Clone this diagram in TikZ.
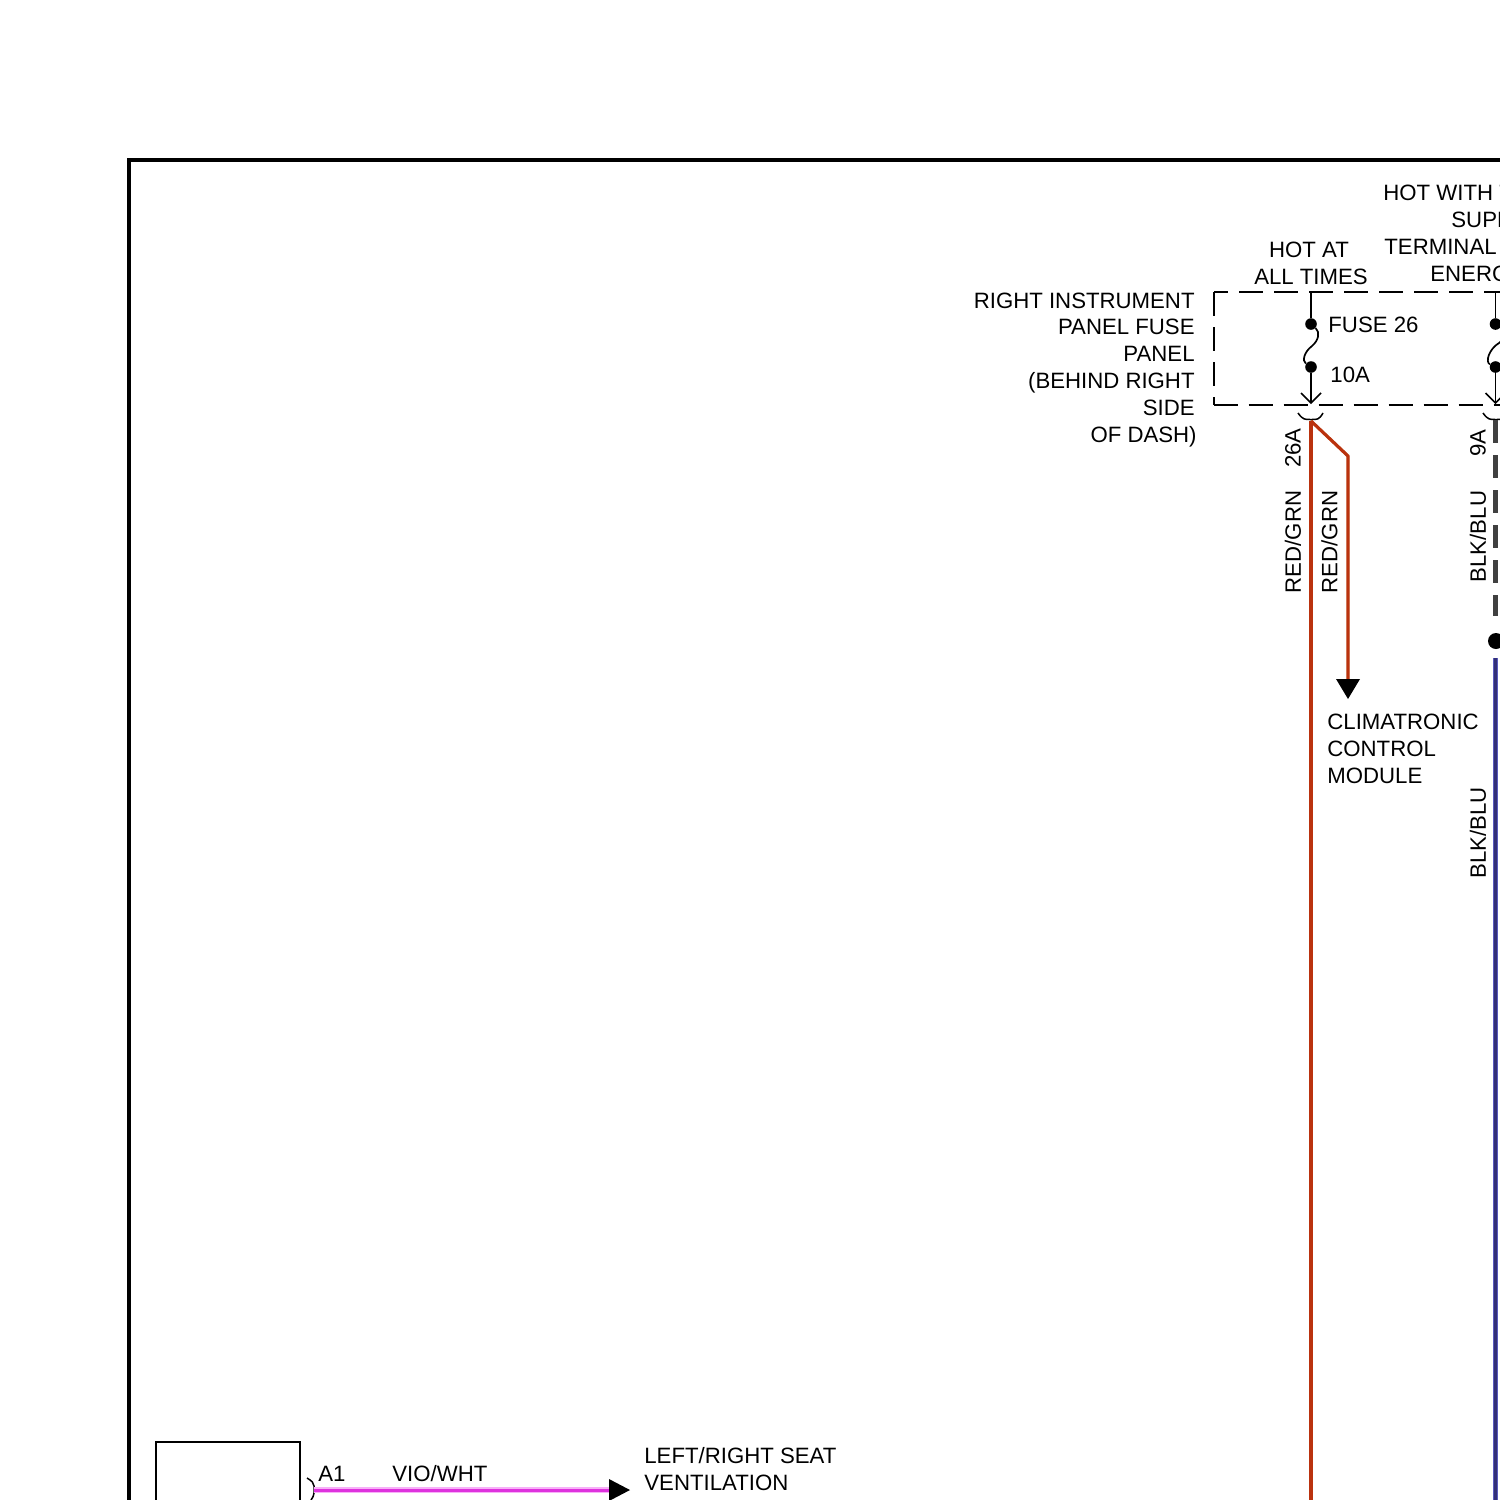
\documentclass[tikz,border=0pt]{standalone}
\usepackage{fontspec}
\setmainfont{Liberation Sans}
\definecolor{wirecore}{RGB}{186,50,14}
\definecolor{wirepink}{RGB}{250,160,150}
\definecolor{wireyel}{RGB}{225,215,90}
\definecolor{wiregrn}{RGB}{190,215,80}
\definecolor{wireblue}{RGB}{50,48,120}
\definecolor{wireblu2}{RGB}{90,90,190}
\definecolor{wiremag}{RGB}{222,50,222}
\definecolor{wiremag2}{RGB}{248,175,248}
\tikzset{
  lbl/.style={inner sep=0pt,font=\fontsize{11.1pt}{13pt}\selectfont,text=black},
  lblr/.style={lbl,anchor=east,align=right},
  lbll/.style={lbl,anchor=west,align=left},
  lblv/.style={lbl,rotate=90,anchor=east},
  dot/.style={circle,fill=black,inner sep=0pt,minimum size=5.8pt},
  fusew/.style={line width=0.85pt,black},
  box/.style={line width=0.8pt,black,dash pattern=on 12pt off 5.5pt},
  tri/.style={fill=black,draw=none},
  conn/.style={line width=0.75pt,black}
}
\begin{document}
\begin{tikzpicture}[x=0.5pt,y=-0.5pt]
\useasboundingbox (0,0) rectangle (1500,1500);
\clip (0,0) rectangle (1500,1500);
% frame
\draw[line width=2pt,black] (1504,160) -- (129,160) -- (129,1504);
% dashed fuse panel
\draw[box,dash phase=5pt] (1214,292) -- (1504,292);
\draw[box] (1214,292) -- (1214,405);
\draw[box] (1213.5,405) -- (1504,405);
% coordinates
\coordinate (t1) at (1311,292);
\node[dot] (f1a) at (1311,324) {};
\node[dot] (f1b) at (1311,367) {};
\coordinate (a1) at (1311,403);
\coordinate (t2) at (1495.5,292);
\node[dot] (f2a) at (1495.5,324) {};
\node[dot] (f2b) at (1495.5,367) {};
\coordinate (a2) at (1495.5,403);
% fuse 1
\draw[fusew] (t1) -- (f1a);
\draw[fusew] (f1a) .. controls (1320,332) and (1319,340) .. (1312,346) .. controls (1304,352) and (1302,361) .. (f1b);
\draw[fusew] (f1b) -- (a1);
\draw[fusew] (1301,393) -- (a1) -- (1321,393);
% fuse 2
\draw[fusew] (t2) -- (f2a);
\draw[fusew] (f2a) .. controls (1506,332) and (1506,338) .. (1499,343) .. controls (1489,349) and (1485,362) .. (f2b);
\draw[fusew] (f2b) -- (a2);
\draw[fusew] (1485.5,393) -- (a2) -- (1505.5,393);
% connector arcs
\draw[conn] (1298,413) .. controls (1303,420) and (1305,419.5) .. (1311,419.5) .. controls (1317,419.5) and (1319,420) .. (1323,413);
\draw[conn] (1483,413) .. controls (1488,420) and (1490,419.5) .. (1496,419.5) .. controls (1502,419.5) and (1504,420) .. (1508,413);
% red/green wires
\coordinate (w1) at (1311,421);
\coordinate (w1e) at (1311,1504);
\coordinate (k1) at (1348,456);
\coordinate (k2) at (1348,682);
\draw[line width=1pt,wirepink,xshift=-1pt] (w1) -- (w1e);
\draw[line width=1.2pt,wireyel,xshift=1.1pt] (w1) -- (w1e);
\draw[line width=1pt,wirepink,xshift=-1pt,line join=round] (w1) -- (k1) -- (k2);
\draw[line width=1.2pt,wiregrn,xshift=1.1pt,yshift=0.4pt,line join=round] (w1) -- (k1) -- (k2);
\draw[line width=1.6pt,wirecore] (w1) -- (w1e);
\draw[line width=1.6pt,wirecore,line join=round] (w1) -- (k1) -- (k2);
\fill[tri] (1336,679) -- (1360,679) -- (1348,699) -- cycle;
% blk/blu
\coordinate (d1) at (1495.5,420);
\coordinate (d2) at (1495.5,616);
\node[dot,minimum size=8pt] (j) at (1496,641) {};
\coordinate (b1) at (1495.5,658);
\coordinate (b2) at (1495.5,1504);
\draw[line width=2.5pt,black!75,dash pattern=on 11.5pt off 6pt] (d1) -- (d2);
\draw[line width=2.5pt,wireblu2] (b1) -- (b2);
\draw[line width=1.7pt,wireblue,xshift=-0.4pt] (b1) -- (b2);
% lower-left module
\draw[line width=0.8pt,black] (156,1504) -- (156,1442) -- (300,1442) -- (300,1504);
\draw[conn] (307,1478) .. controls (312,1481) and (314,1483) .. (314,1486) -- (314,1493) .. controls (314,1495) and (313,1497) .. (311,1500);
\coordinate (m1) at (314,1490);
\coordinate (m2) at (611,1490);
\draw[line width=2.6pt,wiremag2] (m1) -- (m2);
\draw[line width=1.5pt,wiremag] (m1) -- (m2);
\fill[tri] (609,1479) -- (630,1490) -- (609,1501) -- cycle;
% labels
\node[lbll] (hw1) at (1383,192.5) {HOT WITH T};
\node[lbll] (hw2) at (1451,219.5) {SUPP};
\node[lbll] (hw3) at (1384,246.5) {TERMINAL};
\node[lbll] (hw4) at (1430,273.5) {ENERG};
\node[lbl,anchor=center] (h1) at (1309,249.5) {HOT AT};
\node[lbl,anchor=center] (h2) at (1311,276.5) {ALL TIMES};
\node[lblr] (r1) at (1195,300.5) {RIGHT INSTRUMENT};
\node[lblr] (r2) at (1195,326.5) {PANEL FUSE};
\node[lblr] (r3) at (1195,354) {PANEL};
\node[lblr] (r4) at (1195,382.5) {(BEHIND RIGHT};
\node[lblr] (r5) at (1195,408) {SIDE};
\node[lblr] (r6) at (1197,436.5) {OF DASH)};
\node[lbll] (fu) at (1328,324.5) {FUSE 26};
\node[lbll] (am) at (1330,374.5) {10A};
\node[lblv] (c26) at (1293,428) {26A};
\node[lblv] (rg1) at (1293,490.5) {RED/GRN};
\node[lblv] (rg2) at (1329.5,490.5) {RED/GRN};
\node[lblv] (c9) at (1478,429) {9A};
\node[lblv] (bb1) at (1478,490.5) {BLK/BLU};
\node[lblv] (bb2) at (1478,787) {BLK/BLU};
\node[lbll] (cm1) at (1327,722) {CLIMATRONIC};
\node[lbll] (cm2) at (1327,749) {CONTROL};
\node[lbll] (cm3) at (1327,776) {MODULE};
\node[lbll] (a1l) at (318,1474) {A1};
\node[lbll] (vw) at (392,1474) {VIO/WHT};
\node[lbll] (ls1) at (644,1456) {LEFT/RIGHT SEAT};
\node[lbll] (ls2) at (644,1483) {VENTILATION};
\end{tikzpicture}
\end{document}
